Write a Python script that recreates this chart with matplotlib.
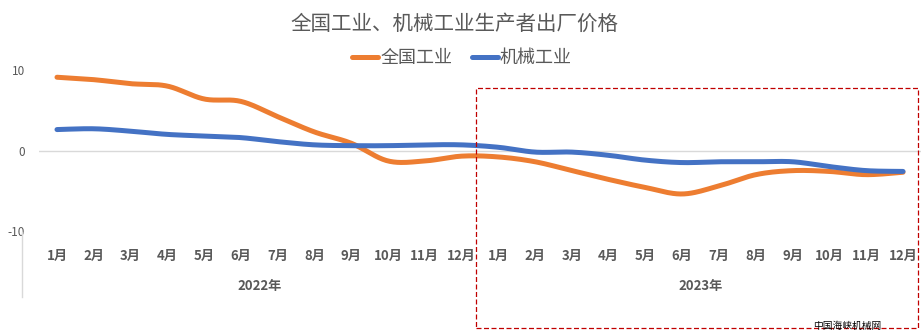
import matplotlib.pyplot as plt
from matplotlib.lines import Line2D
from matplotlib.patches import Rectangle
import numpy as np

plt.rcParams['font.family'] = ['Noto Sans CJK SC', 'DejaVu Sans']

months = [f"{m}月" for m in range(1, 13)] * 2
years = ["2022年", "2023年"]
national = [9.1, 8.8, 8.3, 8.0, 6.4, 6.1, 4.2, 2.3, 0.9, -1.3, -1.3, -0.7,
            -0.8, -1.4, -2.5, -3.6, -4.6, -5.4, -4.4, -3.0, -2.5, -2.6, -3.0, -2.7]
machinery = [2.6, 2.7, 2.4, 2.0, 1.8, 1.6, 1.1, 0.7, 0.6, 0.6, 0.7, 0.7,
             0.4, -0.2, -0.2, -0.6, -1.2, -1.5, -1.4, -1.4, -1.4, -2.0, -2.5, -2.6]
series_names = ["全国工业", "机械工业"]
colors = ["#ED7D31", "#4472C4"]
gray = "#595959"


def smooth(y, n=20):
    # catmull-rom curve through the points, like excel's smoothed line
    x = np.arange(len(y), dtype=float)
    p = np.column_stack([x, np.asarray(y, dtype=float)])
    p = np.vstack([p[0], p, p[-1]])
    out = []
    t = np.linspace(0, 1, n, endpoint=False)[:, None]
    for i in range(1, len(p) - 2):
        p0, p1, p2, p3 = p[i - 1], p[i], p[i + 1], p[i + 2]
        seg = 0.5 * ((2 * p1) + (-p0 + p2) * t + (2 * p0 - 5 * p1 + 4 * p2 - p3) * t ** 2
                     + (-p0 + 3 * p1 - 3 * p2 + p3) * t ** 3)
        out.append(seg)
    out.append(p[-2][None, :])
    out = np.vstack(out)
    return out[:, 0], out[:, 1]


fig = plt.figure(figsize=(9.24, 3.35), dpi=100)
W, H = 924, 335
ax = fig.add_axes([38.6 / W, 1 - 231 / H, (921.4 - 38.6) / W, (231 - 70) / H])

for vals, name, c in zip([national, machinery], series_names, colors):
    xs, ys = smooth(vals)
    ax.plot(xs, ys, color=c, lw=3.6, solid_capstyle='round', label=name)

ax.axhline(0, color="#D9D9D9", lw=1, zorder=0)
ax.set_xlim(-0.5, len(months) - 0.5)
ax.set_ylim(-10, 10)
ax.set_yticks([-10, 0, 10])
ax.set_yticklabels(["-10", "0", "10"])
ax.tick_params(axis='y', length=0, labelsize=8.5, labelcolor=gray, pad=10)
ax.set_xticks(range(len(months)))
ax.set_xticklabels(months, fontsize=9.5, fontweight='bold', color=gray)
ax.tick_params(axis='x', length=0, pad=13)
for s in ax.spines.values():
    s.set_visible(False)

for i, yr in enumerate(years):
    ax.text(5.5 + 12 * i, -0.34, yr, transform=ax.get_xaxis_transform(),
            ha='center', va='center', fontsize=9.5, fontweight='bold', color=gray)

fig.add_artist(Line2D([22 / W, 22 / W], [1 - 232 / H, 1 - 297 / H], color="#D9D9D9", lw=1))

fig.text(454 / W, 1 - 24 / H, "全国工业、机械工业生产者出厂价格", ha='center', va='center',
         fontsize=14.8, color=gray)
fig.legend(loc='center', bbox_to_anchor=(462 / W, 1 - 58 / H), ncol=2, frameon=False,
           fontsize=13, labelcolor=gray, handlelength=1.45, columnspacing=1.1,
           handletextpad=0.1)

fig.add_artist(Rectangle((476 / W, 1 - 328 / H), (918 - 476) / W, (328 - 88) / H,
                         fill=False, edgecolor="#C00000", lw=0.9, ls=(0, (4, 2))))
fig.text(881 / W, 1 - 326 / H, "中国海峡机械网", ha='right', va='center', fontsize=7,
         color="black")

fig.savefig("out.png", dpi=100)
